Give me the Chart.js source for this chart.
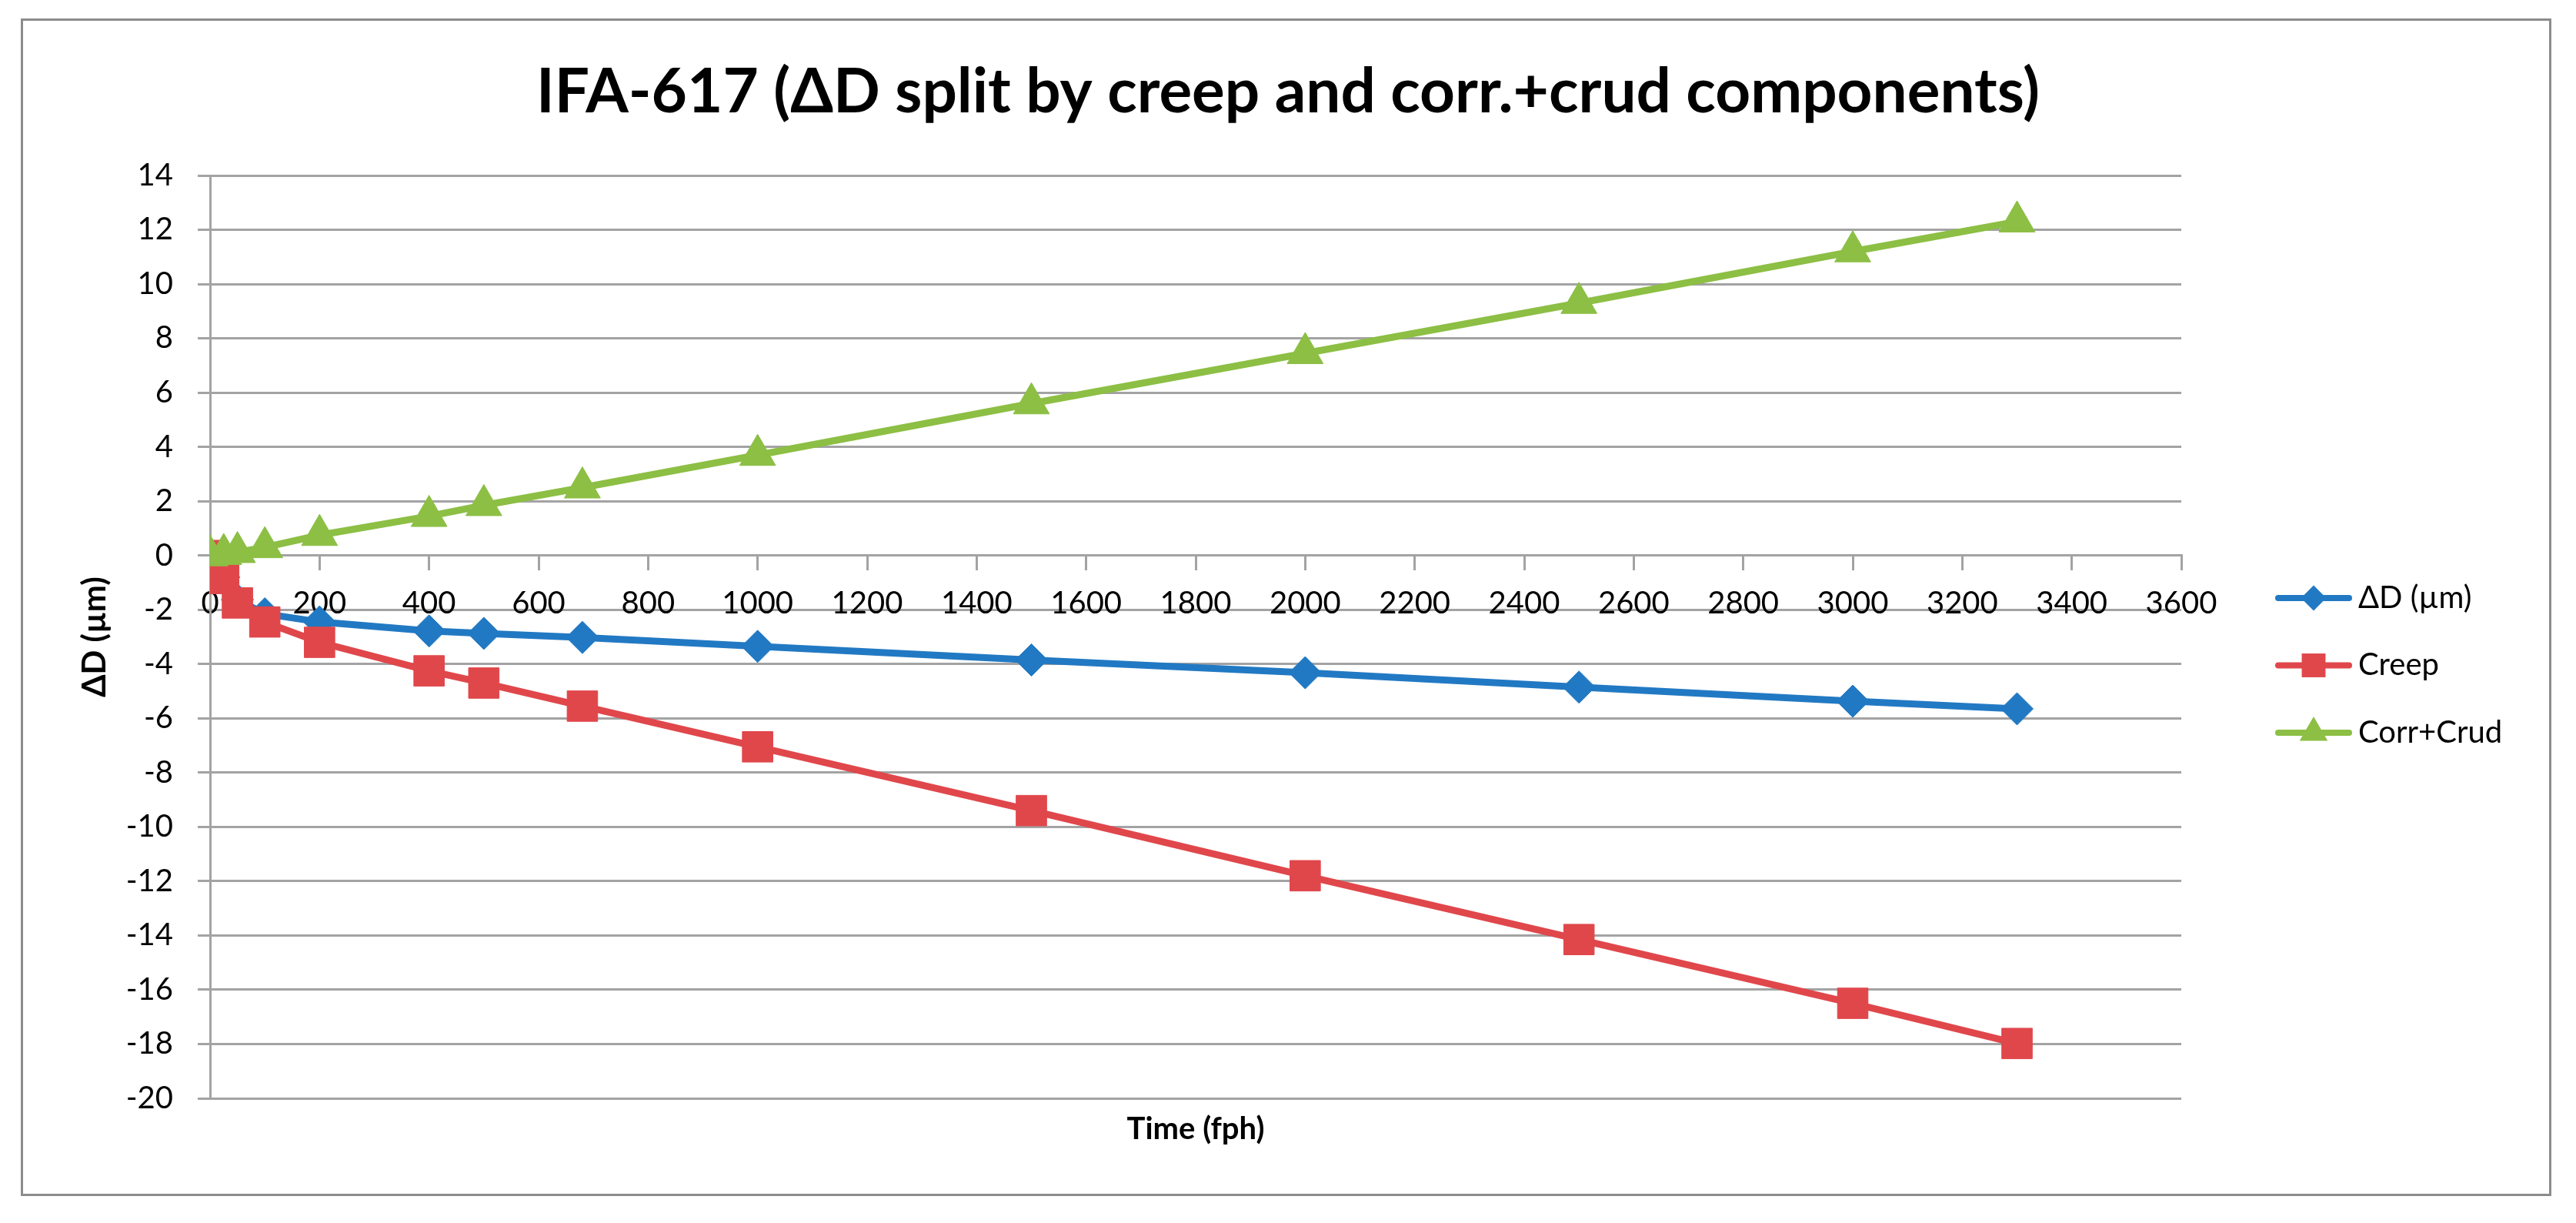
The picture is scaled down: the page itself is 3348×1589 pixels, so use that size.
<!DOCTYPE html>
<html>
<head>
<meta charset="utf-8">
<title>IFA-617</title>
<script src="https://cdn.jsdelivr.net/npm/chart.js@4.4.1/dist/chart.umd.min.js"></script>
<style>
  html, body { margin: 0; padding: 0; background: #fff; }
  canvas { display: block; }
</style>
</head>
<body>
<canvas id="chart" width="3348" height="1589"></canvas>
<script>
// time in full power hours, values in micrometres
const timeFph = [0, 25, 50, 100, 200, 400, 500, 680, 1000, 1500, 2000, 2500, 3000, 3300];
const deltaD = [0, -0.8, -1.63, -2.15, -2.45, -2.78, -2.87, -3.02, -3.35, -3.85, -4.32, -4.85, -5.37, -5.65];
const creep = [0, -0.85, -1.75, -2.45, -3.2, -4.25, -4.7, -5.55, -7.05, -9.4, -11.8, -14.15, -16.5, -17.98];
const corrCrud = [0, 0.05, 0.12, 0.3, 0.75, 1.45, 1.85, 2.5, 3.7, 5.6, 7.45, 9.3, 11.2, 12.3];

const seriesNames = ['ΔD (µm)', 'Creep', 'Corr+Crud'];
const chartTitle = 'IFA-617 (ΔD split by creep and corr.+crud components)';
const xTitle = 'Time (fph)';
const yTitle = 'ΔD (µm)';

const xMin = 0, xMax = 3600, xStep = 200;
const yMin = -20, yMax = 14, yStep = 2;

const gridColor = '#a3a3a3';

Chart.defaults.font.family = 'Lato';
Chart.defaults.color = '#000';

function toPoints(ys) {
    return timeFph.map((t, i) => ({ x: t, y: ys[i] }));
}

function makeSeries(label, values, color, style, radius, order) {
    return {
        label: label,
        data: toPoints(values),
        borderColor: color,
        backgroundColor: color,
        pointBackgroundColor: color,
        pointBorderColor: color,
        borderWidth: 9,
        pointStyle: style,
        pointRadius: radius,
        pointBorderWidth: 1,
        tension: 0,
        fill: false,
        order: order
    };
}

// outer frame of the chart
const chartFrame = {
    id: 'chartFrame',
    beforeDraw(chart) {
        const ctx = chart.ctx;
        ctx.save();
        ctx.fillStyle = '#fff';
        ctx.fillRect(0, 0, chart.width, chart.height);
        ctx.strokeStyle = '#8c8c8c';
        ctx.lineWidth = 3;
        ctx.strokeRect(28.5, 25.5, 3286, 1527);
        ctx.restore();
    }
};

// Excel-like legend: line with marker, then the label
const sideLegend = {
    id: 'sideLegend',
    afterDraw(chart) {
        const ctx = chart.ctx;
        const x0 = chart.chartArea.right + 122;
        const lineLen = 100;
        const top = 777;
        const rowGap = 87.5;
        chart.data.datasets.forEach((ds, i) => {
            const y = top + i * rowGap;
            ctx.save();
            ctx.strokeStyle = ds.borderColor;
            ctx.lineWidth = 8;
            ctx.lineCap = 'round';
            ctx.beginPath();
            ctx.moveTo(x0 + 4, y);
            ctx.lineTo(x0 + lineLen - 4, y);
            ctx.stroke();
            ctx.fillStyle = ds.pointBackgroundColor;
            Chart.helpers.drawPoint(ctx, {
                pointStyle: ds.pointStyle,
                radius: ds.pointRadius * 0.78,
                rotation: 0,
                borderWidth: 0
            }, x0 + lineLen / 2, y);
            ctx.fillStyle = '#000';
            ctx.font = '40px Lato';
            ctx.textBaseline = 'middle';
            ctx.textAlign = 'left';
            ctx.fillText(ds.label, x0 + lineLen + 8, y);
            ctx.restore();
        });
    }
};

const ctx = document.getElementById('chart').getContext('2d');

new Chart(ctx, {
    type: 'line',
    data: {
        datasets: [
            makeSeries(seriesNames[0], deltaD, '#2279c3', 'rectRot', 21, 3),
            makeSeries(seriesNames[1], creep, '#e0474b', 'rect', 28, 2),
            makeSeries(seriesNames[2], corrCrud, '#8cbf44', 'triangle', 27, 1)
        ]
    },
    options: {
        responsive: false,
        animation: false,
        layout: { padding: { left: 30, right: 30, top: 25, bottom: 40 } },
        plugins: {
            legend: { display: false },
            tooltip: { enabled: false },
            title: {
                display: true,
                text: chartTitle,
                color: '#000',
                font: { size: 80, weight: 'bold' },
                padding: { top: 47, bottom: 60 }
            }
        },
        scales: {
            x: {
                type: 'linear',
                position: { y: 0 },
                min: xMin,
                max: xMax,
                ticks: {
                    stepSize: xStep,
                    autoSkip: false,
                    maxRotation: 0,
                    padding: 20,
                    font: { size: 40 },
                    callback: v => String(v)
                },
                grid: { drawOnChartArea: false, drawTicks: true, tickLength: 18, color: gridColor, lineWidth: 3 },
                border: { display: true, color: gridColor, width: 3 }
            },
            xLabel: {
                type: 'linear',
                axis: 'x',
                position: 'bottom',
                ticks: { display: false },
                grid: { display: false },
                border: { display: false },
                title: {
                    display: true,
                    text: xTitle,
                    font: { size: 40, weight: 'bold' },
                    padding: { top: 0, bottom: 58 }
                },
                afterFit(scale) { scale.height = 122; }
            },
            y: {
                type: 'linear',
                position: 'left',
                min: yMin,
                max: yMax,
                ticks: {
                    stepSize: yStep,
                    padding: 32,
                    font: { size: 40 },
                    callback: v => String(v)
                },
                grid: { color: gridColor, lineWidth: 3, tickLength: 16 },
                border: { display: true, color: gridColor, width: 3 },
                title: {
                    display: true,
                    text: yTitle,
                    font: { size: 42, weight: 'bold' },
                    padding: { top: 68, bottom: 0 }
                },
                afterFit(scale) { scale.width = 243; }
            },
            legendSpace: {
                type: 'linear',
                axis: 'y',
                position: 'right',
                ticks: { display: false },
                grid: { display: false },
                border: { display: false },
                afterFit(scale) { scale.width = 483; }
            }
        }
    },
    plugins: [chartFrame, sideLegend]
});
</script>
</body>
</html>
